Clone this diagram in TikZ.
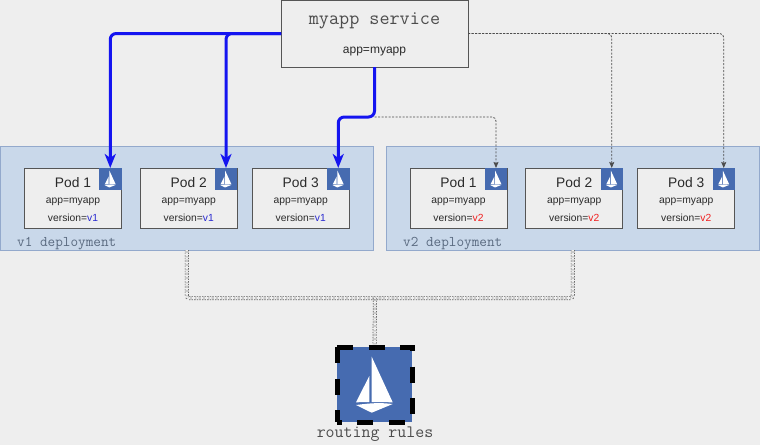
\documentclass[tikz,border=0pt]{standalone}
\usepackage{fontspec}
\setmainfont{Liberation Sans}
\usetikzlibrary{arrows.meta}
\definecolor{bgc}{HTML}{EEEEEE}
\definecolor{depfill}{HTML}{C9D8EA}
\definecolor{depline}{HTML}{93A9CC}
\definecolor{boxline}{HTML}{555555}
\definecolor{iconc}{HTML}{466BB0}
\definecolor{blueflow}{HTML}{1414F0}
\definecolor{depnamec}{HTML}{5A6A80}
\definecolor{txt}{HTML}{2A2A2A}
\tikzset{
  svcbox/.style={draw=boxline,line width=1pt,fill=bgc,minimum width=187pt,minimum height=67pt,inner sep=0,outer sep=0},
  depbox/.style={draw=depline,line width=1pt,fill=depfill,minimum width=373.5pt,minimum height=104pt,inner sep=0,outer sep=0},
  podbox/.style={draw=boxline,line width=1pt,fill=bgc,minimum width=97pt,minimum height=60pt,inner sep=0,outer sep=0},
  iconbox/.style={fill=iconc,minimum width=22.5pt,minimum height=22pt,inner sep=0,outer sep=0},
  bigicon/.style={fill=iconc,minimum width=75pt,minimum height=75pt,inner sep=0,outer sep=0},
  svctitle/.style={font=\fontsize{19.6}{20}\selectfont\ttfamily,text=black!70,inner sep=0},
  depnamestyle/.style={font=\fontsize{14.8}{15}\selectfont\ttfamily,text=depnamec,inner sep=0,anchor=west},
  rulename/.style={font=\fontsize{17.4}{18}\selectfont\ttfamily,text=black!70,inner sep=0},
  podname/.style={font=\fontsize{13.8}{14}\selectfont,text=txt,inner sep=0},
  podlabel/.style={font=\fontsize{10.3}{11}\selectfont,text=txt,inner sep=0},
  svclabel/.style={font=\fontsize{12}{13}\selectfont,text=txt,inner sep=0},
  liveflow/.style={draw=blueflow,line width=3pt,rounded corners=6pt,-{Stealth[length=14pt,width=11pt,inset=4pt]}},
  idleflow/.style={draw=black!70,line width=.8pt,dash pattern=on 2pt off 1.5pt,rounded corners=4pt,-{Stealth[length=6pt,width=5pt,inset=1pt]}},
  ruleflow/.style={draw=black!65,line width=.7pt,double=bgc,double distance=2.6pt,dash pattern=on 1.3pt off 1.3pt,rounded corners=1.5pt},
  routeborder/.style={black,line width=5pt,dash pattern=on 16pt off 15.5pt},
  sailboat/.pic={
    \fill[white] (-2.8,-27.8) -- (18.2,17.8) -- (-2.8,17.5) -- cycle;
    \fill[white] (-5.2,-8.5) -- (-5.2,17.5) -- (-18.5,17.8) -- cycle;
    \fill[white] (-18.5,20.5) .. controls (-3,18.5) and (5,18) .. (18.2,19.5) -- (-2.8,28.2) -- cycle;
  }
}
\begin{document}
\begin{tikzpicture}[x=1pt,y=-1pt]
\useasboundingbox (0,0) rectangle (760,445);
\fill[bgc] (0,0) rectangle (760,445);

\node[depbox] (dep1) at (186.75,198) {};
\node[depbox] (dep2) at (572.75,198) {};
\node[depnamestyle] (dep1name) at (17,244) {v1 deployment};
\node[depnamestyle] (dep2name) at (403,244) {v2 deployment};

\foreach \n/\cx/\ix/\nm in {a/73/110.25/Pod 1,b/188.75/226/Pod 2,c/300.75/338.25/Pod 3}{
  \node[podbox] (pod\n) at (\cx,198) {};
  \node[iconbox] (icon\n) at (\ix,179) {};
  \pic[scale=.3] at (icon\n.center) {sailboat};
  \node[podname] (name\n) at (\cx,183) {\nm};
  \node[podlabel] (app\n) at (\cx,202) {app=myapp};
  \node[podlabel] (ver\n) at (\cx,218) {version=\textcolor[HTML]{2A2AD0}{v1}};
}
\foreach \n/\cx/\ix/\nm in {d/458.5/496/Pod 1,e/574.25/611.75/Pod 2,f/686.25/723.75/Pod 3}{
  \node[podbox] (pod\n) at (\cx,198) {};
  \node[iconbox] (icon\n) at (\ix,179) {};
  \pic[scale=.3] at (icon\n.center) {sailboat};
  \node[podname] (name\n) at (\cx,183) {\nm};
  \node[podlabel] (app\n) at (\cx,202) {app=myapp};
  \node[podlabel] (ver\n) at (\cx,218) {version=\textcolor[HTML]{F02020}{v2}};
}

\node[svcbox] (svc) at (374.5,33.5) {};
\node[svctitle] (svctitle) at (374.5,21) {myapp service};
\node[svclabel] (svclabel) at (374.5,52) {app=myapp};

\coordinate (elbow) at (374.5,117);
\coordinate (junction) at (375,298);

\node[bigicon] (rule) at (374.5,384.5) {};
\pic at (rule.center) {sailboat};
\node[rulename] (rulename) at (375,434.5) {routing rules};

\draw[ruleflow] (dep1.south) |- (junction);
\draw[ruleflow] (dep2.south) |- (junction);
\draw[ruleflow] (junction) -- (rule.north);

\draw[idleflow] (svc.east) -| (icone.north);
\draw[idleflow] (svc.east) -| (iconf.north);
\draw[idleflow] (elbow) -| (icond.north);

\draw[liveflow] (svc.west) -| (icona.north);
\draw[liveflow] (svc.west) -| (iconb.north);
\draw[liveflow] (svc.south) -- (elbow) -| (iconc.north);

\draw[routeborder] (rule.north west) -- (rule.north east) -- (rule.south east) -- (rule.south west);
\draw[routeborder] (rule.north west) -- (rule.south west);
\end{tikzpicture}
\end{document}
